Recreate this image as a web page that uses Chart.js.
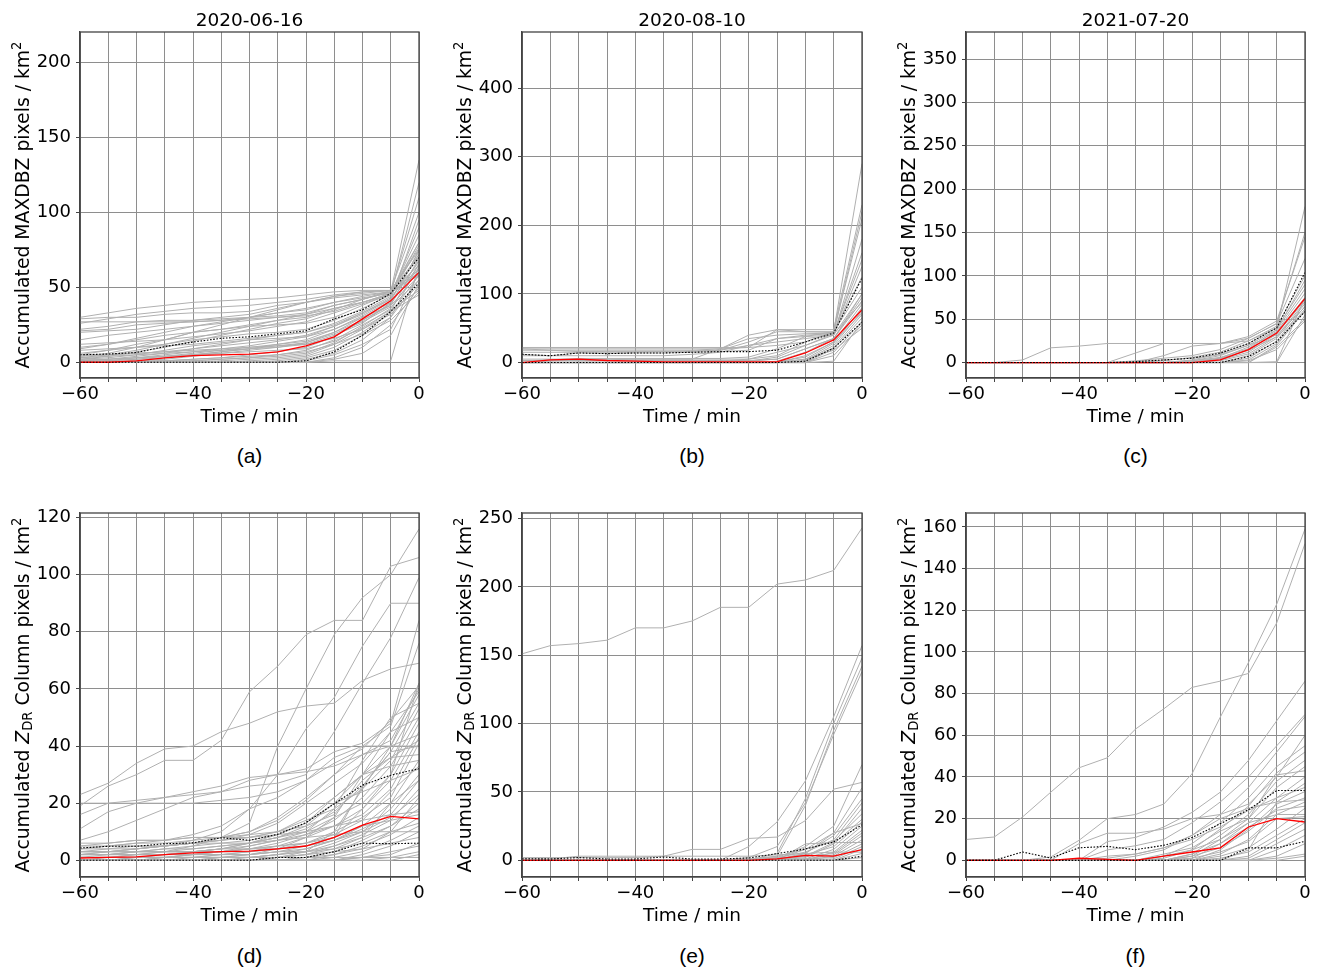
<!DOCTYPE html>
<html>
<head>
<meta charset="utf-8">
<script src="https://cdn.jsdelivr.net/npm/chart.js@4.4.1/dist/chart.umd.min.js"></script>
<style>
  body { margin: 0; background: #fff; }
  #fig { position: relative; width: 1319px; height: 972px; font-family: "DejaVu Sans", sans-serif; color: #000; }
  canvas { position: absolute; }
  .ttl { position: absolute; font-size: 18.5px; line-height: 22px; text-align: center; white-space: nowrap; }
  .ylab { position: absolute; font-size: 18.8px; line-height: 22px; text-align: center; white-space: nowrap; transform: rotate(-90deg); }
  .plab { position: absolute; font-family: "Liberation Sans", Arial, sans-serif; font-size: 21px; line-height: 24px; text-align: center; }
  sup { font-size: 0.7em; vertical-align: 0.6em; line-height: 0; }
  sub { font-size: 0.7em; vertical-align: -0.25em; line-height: 0; }
</style>
</head>
<body>
<div id="fig"></div>
<script>
const timeMin = [-60, -55, -50, -45, -40, -35, -30, -25, -20, -15, -10, -5, 0];

// (a) 2020-06-16, MAXDBZ
const yTicksA = [0, 50, 100, 150, 200];
const medianA = [0, 0, 1, 3, 4.5, 5, 5.5, 7, 11, 17, 29, 41, 60];
const upperA = [5, 5.5, 6.5, 10.5, 13.5, 16, 17, 19, 21, 29, 35, 46, 70];
const lowerA = [0, 0, 0, 0, 0, 0, 0, 0, 1, 7, 18, 34, 53];
const tracksA = [
  [30, 33, 36, 38, 40, 41, 42, 43, 45, 47, 48, 48, 75],
  [29, 30, 30, 32, 33, 33, 34, 38, 40, 44, 46, 48, 70],
  [22, 24, 27, 28, 28, 29, 30, 31, 33, 38, 42, 47, 80],
  [21, 22, 25, 26, 27, 28, 30, 33, 35, 40, 44, 47, 65],
  [27, 27, 27, 27, 27, 28, 29, 30, 31, 34, 40, 46, 60],
  [5, 8, 12, 15, 20, 25, 30, 35, 40, 43, 45, 47, 135],
  [4, 6, 10, 15, 20, 22, 25, 28, 30, 36, 40, 45, 120],
  [3, 5, 8, 12, 16, 20, 24, 28, 32, 38, 42, 47, 110],
  [2, 4, 7, 10, 14, 18, 22, 26, 29, 35, 42, 48, 100],
  [6, 8, 10, 12, 15, 17, 19, 20, 22, 28, 36, 45, 80],
  [1, 2, 4, 6, 9, 12, 15, 18, 20, 26, 34, 44, 78],
  [0, 1, 3, 5, 7, 9, 11, 14, 17, 24, 33, 42, 72],
  [0, 0, 1, 2, 4, 6, 8, 10, 13, 20, 30, 40, 68],
  [0, 0, 0, 1, 2, 3, 5, 7, 10, 17, 28, 39, 65],
  [0, 0, 0, 0, 1, 2, 3, 4, 6, 13, 24, 36, 62],
  [0, 0, 0, 0, 0, 0, 1, 2, 4, 10, 20, 33, 58],
  [0, 0, 0, 0, 0, 0, 0, 0, 2, 6, 15, 30, 55],
  [0, 0, 0, 0, 0, 0, 0, 0, 0, 3, 10, 25, 50],
  [0, 0, 0, 0, 0, 0, 0, 0, 0, 1, 1, 1, 65],
  [2, 3, 5, 8, 11, 13, 15, 16, 17, 22, 30, 38, 75],
  [5, 5, 6, 7, 8, 9, 10, 11, 12, 18, 26, 40, 63],
  [0, 1, 2, 4, 6, 8, 10, 12, 14, 20, 28, 38, 58],
  [10, 12, 15, 18, 20, 22, 24, 25, 26, 30, 38, 46, 85],
  [15, 18, 20, 22, 24, 26, 28, 30, 32, 36, 40, 46, 72],
  [0, 0, 0, 1, 1, 2, 3, 5, 8, 15, 25, 35, 48],
  [1, 1, 2, 3, 5, 7, 9, 11, 13, 19, 27, 37, 55],
  [3, 4, 5, 6, 7, 8, 9, 10, 12, 16, 22, 32, 52],
  [0, 0, 0, 0, 0, 0, 0, 1, 3, 8, 18, 28, 47],
  [12, 13, 14, 15, 17, 19, 21, 24, 27, 33, 39, 45, 90],
  [8, 9, 10, 11, 12, 14, 16, 18, 20, 25, 33, 43, 67],
  [0, 0, 0, 0, 0, 1, 2, 3, 5, 12, 22, 34, 45],
  [0, 0, 0, 0, 0, 0, 0, 0, 1, 5, 12, 22, 60],
  [20, 21, 22, 25, 28, 30, 32, 36, 40, 44, 47, 48, 76],
  [1, 2, 3, 4, 5, 6, 7, 8, 9, 14, 23, 34, 70],
  [4, 5, 6, 7, 9, 11, 13, 15, 18, 24, 32, 42, 95],
  [0, 0, 0, 0, 0, 0, 0, 0, 0, 2, 6, 18, 52],
  [9, 12, 16, 20, 24, 27, 30, 33, 36, 40, 43, 46, 62],
  [26, 29, 32, 34, 36, 37, 38, 40, 42, 45, 47, 48, 58],
  [0, 0, 1, 1, 2, 3, 4, 5, 7, 12, 19, 30, 66],
  [2, 2, 3, 4, 5, 7, 9, 12, 15, 22, 31, 41, 74]
];

// (b) 2020-08-10, MAXDBZ
const yTicksB = [0, 100, 200, 300, 400];
const medianB = [0, 4, 5, 3, 2, 1, 1, 1, 1, 1, 14, 33, 77];
const upperB = [12, 10, 14, 13, 14, 14, 15, 16, 16, 18, 30, 43, 123];
const lowerB = [0, 0, 0, 0, 0, 0, 0, 0, 0, 0, 2, 21, 59];
const tracksB = [
  [22, 22, 22, 22, 22, 22, 22, 22, 22, 25, 30, 45, 290],
  [20, 20, 20, 20, 20, 20, 20, 20, 22, 48, 48, 48, 230],
  [18, 18, 18, 18, 18, 18, 18, 20, 40, 48, 45, 44, 220],
  [15, 15, 15, 15, 15, 16, 16, 18, 30, 45, 45, 45, 210],
  [12, 10, 14, 13, 14, 14, 15, 16, 18, 35, 40, 42, 160],
  [5, 5, 5, 5, 5, 5, 5, 20, 35, 40, 42, 43, 150],
  [2, 4, 6, 6, 6, 6, 6, 6, 8, 20, 38, 45, 125],
  [0, 2, 3, 4, 5, 5, 5, 5, 5, 10, 30, 45, 110],
  [0, 0, 0, 0, 0, 0, 0, 2, 5, 15, 25, 40, 100],
  [0, 0, 0, 0, 0, 0, 0, 0, 2, 5, 20, 35, 95],
  [0, 0, 0, 0, 0, 0, 0, 0, 0, 2, 15, 35, 90],
  [0, 0, 0, 0, 0, 0, 0, 0, 0, 0, 10, 30, 85],
  [0, 0, 0, 0, 0, 0, 0, 0, 0, 0, 5, 28, 80],
  [0, 0, 0, 0, 0, 0, 0, 0, 0, 0, 3, 25, 75],
  [0, 0, 0, 0, 0, 0, 0, 0, 0, 0, 2, 22, 70],
  [0, 0, 0, 0, 0, 0, 0, 0, 0, 0, 0, 20, 65],
  [0, 0, 0, 0, 0, 0, 0, 0, 0, 0, 0, 15, 60],
  [0, 0, 0, 0, 0, 0, 0, 0, 0, 0, 0, 2, 60],
  [0, 0, 0, 0, 0, 0, 0, 0, 0, 0, 0, 10, 55],
  [0, 0, 0, 0, 0, 0, 0, 0, 0, 0, 5, 18, 50],
  [3, 3, 3, 3, 3, 3, 3, 3, 3, 5, 20, 35, 100],
  [10, 10, 10, 10, 10, 10, 12, 15, 25, 35, 38, 40, 140],
  [0, 0, 0, 0, 0, 0, 0, 0, 0, 1, 8, 30, 72],
  [0, 0, 1, 1, 1, 1, 1, 1, 2, 8, 25, 42, 88],
  [20, 18, 16, 16, 16, 16, 17, 18, 25, 30, 35, 40, 180]
];

// (c) 2021-07-20, MAXDBZ
const yTicksC = [0, 50, 100, 150, 200, 250, 300, 350];
const medianC = [0, 0, 0, 0, 0, 0, 0, 0, 0, 3, 15, 34, 74];
const upperC = [0, 0, 0, 0, 0, 0, 1, 3, 5, 11, 22, 40, 104];
const lowerC = [0, 0, 0, 0, 0, 0, 0, 0, 0, 0, 7, 24, 59];
const tracksC = [
  [0, 0, 3, 17, 19, 22, 22, 22, 22, 22, 25, 40, 180],
  [0, 0, 0, 0, 0, 0, 11, 22, 22, 22, 28, 45, 150],
  [0, 0, 0, 0, 0, 0, 0, 8, 19, 22, 30, 48, 145],
  [0, 0, 0, 0, 0, 0, 2, 5, 8, 15, 28, 45, 120],
  [0, 0, 0, 0, 0, 0, 0, 2, 6, 12, 25, 42, 100],
  [0, 0, 0, 0, 0, 0, 0, 0, 3, 10, 22, 40, 90],
  [0, 0, 0, 0, 0, 0, 0, 0, 2, 8, 20, 38, 85],
  [0, 0, 0, 0, 0, 0, 0, 0, 0, 5, 18, 36, 80],
  [0, 0, 0, 0, 0, 0, 0, 0, 0, 4, 15, 35, 75],
  [0, 0, 0, 0, 0, 0, 0, 0, 0, 3, 12, 33, 72],
  [0, 0, 0, 0, 0, 0, 0, 0, 0, 2, 10, 30, 70],
  [0, 0, 0, 0, 0, 0, 0, 0, 0, 0, 8, 28, 68],
  [0, 0, 0, 0, 0, 0, 0, 0, 0, 0, 5, 25, 65],
  [0, 0, 0, 0, 0, 0, 0, 0, 0, 0, 3, 22, 62],
  [0, 0, 0, 0, 0, 0, 0, 0, 0, 0, 0, 20, 60],
  [0, 0, 0, 0, 0, 0, 0, 0, 0, 0, 0, 0, 55],
  [0, 0, 0, 0, 0, 0, 0, 0, 0, 0, 0, 18, 50],
  [0, 0, 0, 0, 0, 0, 0, 0, 1, 5, 14, 30, 58],
  [0, 0, 0, 0, 0, 0, 0, 0, 0, 0, 0, 1, 75],
  [0, 0, 0, 0, 0, 0, 0, 0, 2, 6, 16, 38, 95],
  [0, 0, 0, 0, 0, 0, 0, 0, 0, 0, 2, 15, 48],
  [0, 0, 0, 0, 0, 0, 1, 3, 5, 9, 20, 32, 64]
];

// (d) 2020-06-16, ZDR column
const yTicksD = [0, 20, 40, 60, 80, 100, 120];
const medianD = [0.8, 1, 1.2, 2, 2.6, 3, 3.2, 4, 5, 8, 12.3, 15.4, 14.5];
const upperD = [4.3, 4.9, 4.9, 5.8, 6.1, 7.9, 7, 9.1, 13.2, 19.8, 26.3, 29.8, 32.1];
const lowerD = [0, 0, 0, 0, 0, 0, 0, 1, 1, 3, 6, 5.8, 6];
const tracksD = [
  [19, 26, 30, 35, 35, 42, 59, 68, 79, 84, 84, 103, 106],
  [23, 27, 34, 39, 40, 45, 48, 52, 54, 55, 63, 67, 69],
  [1, 1, 2, 3, 5, 8, 13, 40, 60, 79, 92, 100, 116],
  [2, 3, 4, 5, 7, 10, 18, 30, 46, 57, 75, 90, 90],
  [11, 17, 20, 22, 23, 24, 26, 27, 30, 45, 62, 78, 99],
  [16, 20, 21, 22, 24, 26, 29, 30, 32, 38, 41, 48, 84],
  [20, 20, 20, 20, 20, 21, 22, 24, 28, 36, 40, 47, 76],
  [7, 10, 14, 18, 22, 24, 28, 30, 31, 33, 37, 40, 62],
  [4, 5, 6, 7, 9, 12, 18, 22, 28, 34, 39, 49, 61],
  [5, 5, 6, 6, 7, 8, 10, 15, 22, 30, 37, 42, 60],
  [3, 3, 4, 5, 6, 7, 9, 13, 20, 27, 34, 45, 59],
  [2, 2, 3, 4, 5, 6, 7, 9, 13, 20, 30, 40, 58],
  [1, 1, 2, 2, 3, 4, 6, 8, 11, 17, 26, 38, 55],
  [4, 4, 5, 5, 6, 7, 8, 10, 14, 18, 25, 35, 53],
  [0, 0, 1, 1, 2, 3, 4, 6, 9, 14, 22, 33, 50],
  [3, 3, 3, 4, 4, 5, 6, 8, 10, 15, 20, 30, 48],
  [2, 2, 2, 3, 3, 4, 5, 7, 9, 12, 18, 28, 45],
  [0, 0, 0, 1, 1, 2, 3, 5, 8, 12, 16, 25, 43],
  [1, 1, 1, 1, 2, 2, 3, 4, 6, 10, 15, 22, 41],
  [0, 0, 0, 0, 1, 1, 2, 3, 5, 8, 26, 38, 40],
  [5, 6, 7, 7, 8, 8, 9, 10, 12, 16, 28, 36, 37],
  [0, 0, 0, 0, 0, 1, 1, 2, 4, 7, 12, 20, 35],
  [2, 2, 2, 2, 3, 3, 4, 5, 6, 9, 14, 24, 33],
  [0, 0, 0, 0, 0, 0, 1, 2, 3, 6, 10, 18, 30],
  [1, 1, 1, 1, 1, 2, 2, 3, 4, 7, 11, 16, 28],
  [0, 0, 0, 0, 0, 0, 0, 1, 2, 5, 9, 14, 25],
  [3, 3, 3, 3, 3, 3, 4, 4, 5, 7, 10, 15, 23],
  [0, 0, 0, 0, 0, 0, 0, 0, 1, 3, 7, 12, 20],
  [1, 1, 1, 1, 1, 1, 1, 2, 3, 5, 8, 12, 18],
  [0, 0, 0, 0, 0, 0, 0, 0, 0, 2, 5, 9, 15],
  [2, 2, 2, 2, 2, 2, 2, 3, 3, 4, 6, 10, 13],
  [0, 0, 0, 0, 0, 0, 0, 0, 0, 1, 3, 7, 12],
  [0, 0, 0, 0, 0, 0, 0, 0, 0, 0, 2, 5, 10],
  [1, 1, 1, 1, 1, 1, 1, 1, 2, 3, 4, 6, 8],
  [0, 0, 0, 0, 0, 0, 0, 0, 0, 0, 1, 3, 5],
  [0, 0, 0, 0, 0, 0, 0, 0, 0, 0, 0, 1, 3],
  [6, 6, 7, 7, 8, 8, 8, 9, 10, 12, 14, 16, 17],
  [4, 5, 5, 5, 6, 6, 6, 7, 8, 9, 10, 10, 10],
  [0, 0, 0, 0, 0, 1, 2, 4, 8, 15, 30, 45, 50],
  [0, 0, 0, 0, 0, 0, 0, 1, 3, 10, 25, 40, 44],
  [0, 0, 0, 1, 2, 3, 5, 7, 10, 18, 35, 50, 55],
  [2, 3, 4, 5, 6, 8, 10, 14, 21, 30, 40, 40, 40],
  [0, 0, 1, 2, 3, 4, 6, 9, 13, 22, 30, 36, 42],
  [1, 2, 3, 3, 4, 5, 6, 8, 12, 20, 24, 28, 32],
  [0, 0, 0, 0, 0, 0, 0, 1, 2, 4, 8, 20, 28],
  [3, 4, 4, 5, 6, 7, 8, 10, 15, 22, 30, 33, 35],
  [0, 0, 0, 0, 0, 0, 0, 0, 1, 2, 4, 10, 22],
  [0, 1, 1, 2, 2, 3, 3, 4, 5, 8, 18, 30, 62],
  [0, 0, 0, 0, 0, 0, 0, 0, 0, 0, 0, 0, 2],
  [1, 1, 1, 1, 1, 1, 1, 1, 1, 1, 1, 1, 1],
  [0, 0, 0, 0, 0, 0, 0, 0, 0, 0, 1, 2, 6],
  [2, 2, 3, 3, 3, 4, 4, 5, 6, 8, 12, 14, 16]
];

// (e) 2020-08-10, ZDR column
const yTicksE = [0, 50, 100, 150, 200, 250];
const medianE = [0, 0, 0, 0, 0, 0, 0, 0, 0, 1, 3.6, 3, 7.8];
const upperE = [1.2, 1, 2, 1, 1, 2.4, 1, 1, 1.7, 4.9, 8.3, 13.4, 26];
const lowerE = [0, 0, 0, 0, 0, 0, 0, 0, 0, 0, 0, 0, 3];
const tracksE = [
  [151, 157, 158.5, 161, 170, 170, 175, 185, 185, 202, 205, 212, 243],
  [0, 0, 0, 0, 0, 0, 0, 0, 10, 28, 58, 105, 157],
  [0, 0, 0, 0, 0, 0, 0, 0, 0, 5, 45, 100, 148],
  [0, 0, 0, 0, 0, 0, 0, 0, 0, 3, 40, 95, 142],
  [0, 0, 0, 0, 0, 0, 0, 0, 2, 10, 42, 92, 138],
  [1, 1, 3, 3, 3, 3, 8, 8, 16, 17, 29, 52, 57],
  [0, 0, 0, 0, 0, 0, 0, 0, 0, 2, 10, 25, 70],
  [0, 0, 0, 0, 0, 0, 0, 0, 0, 1, 8, 20, 53],
  [0, 0, 0, 0, 0, 0, 0, 0, 0, 0, 5, 18, 45],
  [0, 0, 0, 0, 0, 0, 0, 0, 0, 2, 6, 15, 42],
  [0, 0, 0, 0, 0, 0, 0, 0, 0, 0, 3, 13, 38],
  [0, 0, 0, 0, 0, 0, 0, 0, 1, 3, 8, 14, 34],
  [0, 0, 0, 0, 0, 0, 0, 0, 0, 0, 2, 12, 30],
  [0, 0, 0, 0, 0, 0, 0, 0, 0, 1, 4, 10, 28],
  [0, 0, 0, 0, 0, 0, 0, 0, 0, 0, 1, 8, 25],
  [0, 0, 0, 0, 0, 0, 0, 0, 0, 0, 0, 6, 22],
  [0, 0, 0, 0, 0, 0, 0, 0, 0, 1, 3, 5, 20],
  [0, 0, 0, 0, 0, 0, 0, 0, 0, 0, 1, 4, 18],
  [0, 0, 0, 0, 0, 0, 0, 0, 0, 0, 0, 3, 15],
  [0, 0, 0, 0, 0, 0, 0, 0, 0, 0, 1, 2, 12],
  [0, 0, 0, 0, 0, 0, 0, 0, 0, 0, 0, 1, 10],
  [0, 0, 0, 0, 0, 0, 0, 0, 0, 0, 0, 0, 8],
  [0, 0, 0, 0, 0, 0, 0, 0, 0, 0, 0, 0, 5],
  [2, 2, 2, 2, 2, 3, 3, 3, 3, 4, 5, 6, 6],
  [0, 0, 0, 0, 0, 0, 0, 0, 0, 0, 0, 0, 2],
  [0, 0, 0, 0, 0, 0, 0, 0, 0, 0, 12, 13, 13],
  [0, 0, 0, 0, 0, 0, 0, 0, 0, 1, 5, 20, 27]
];

// (f) 2021-07-20, ZDR column
const yTicksF = [0, 20, 40, 60, 80, 100, 120, 140, 160];
const medianF = [0, 0, 0, 0, 1, 0.5, 0, 2, 4, 6, 16, 20, 18.4];
const upperF = [0, 0, 4, 1.1, 6, 6.7, 5.1, 7.2, 10.9, 17.6, 24.3, 33.5, 33.5];
const lowerF = [0, 0, 0, 0, 0, 0, 0, 0, 0, 0, 6, 6, 9.1];
const tracksF = [
  [10, 11.2, 20.8, 32.7, 44.4, 49.2, 63, 72.7, 83, 86, 89.7, 114, 152],
  [0, 0, 0, 1.6, 9.6, 20, 22, 27, 41.5, 68.7, 95, 123, 159],
  [0, 0, 0, 0, 0, 9, 11, 16, 23, 32.7, 48, 67, 86],
  [0, 0, 0, 0, 0, 5, 7, 10, 18, 28, 40, 55, 70],
  [0, 0, 0, 0, 0, 0, 2, 5, 12, 22, 35, 52, 69],
  [0, 0, 0, 0, 8, 13, 13, 15, 20, 22, 27, 40, 60],
  [0, 0, 0, 0, 0, 0, 0, 2, 8, 18, 30, 45, 55],
  [0, 0, 0, 0, 0, 0, 0, 1, 5, 15, 26, 42, 52],
  [0, 0, 0, 0, 0, 0, 0, 0, 3, 12, 22, 38, 48],
  [0, 0, 0, 0, 0, 0, 0, 0, 2, 10, 20, 41, 43],
  [0, 0, 0, 0, 0, 0, 0, 3, 6, 14, 20, 35, 45],
  [0, 0, 0, 0, 0, 0, 0, 0, 1, 8, 18, 30, 40],
  [0, 0, 0, 0, 0, 1, 3, 6, 10, 16, 24, 30, 35],
  [0, 0, 0, 0, 0, 0, 0, 0, 0, 5, 15, 27, 33],
  [0, 0, 0, 0, 0, 0, 0, 0, 2, 6, 14, 25, 30],
  [0, 0, 0, 0, 0, 0, 0, 0, 0, 3, 10, 22, 28],
  [0, 0, 0, 0, 0, 0, 0, 2, 5, 10, 18, 22, 22],
  [0, 0, 0, 0, 0, 0, 0, 0, 1, 4, 9, 20, 21],
  [0, 0, 0, 0, 0, 0, 0, 0, 0, 2, 6, 15, 25],
  [0, 0, 0, 0, 0, 0, 0, 0, 0, 1, 4, 12, 20],
  [0, 0, 0, 0, 0, 0, 0, 0, 0, 0, 2, 10, 18],
  [0, 0, 0, 0, 0, 0, 0, 0, 0, 0, 1, 8, 15],
  [0, 0, 0, 0, 0, 0, 0, 0, 0, 0, 0, 5, 12],
  [0, 0, 0, 0, 0, 0, 0, 0, 0, 0, 0, 2, 8],
  [0, 0, 0, 0, 0, 0, 0, 0, 0, 0, 0, 1, 3],
  [0, 0, 0, 0, 0, 0, 0, 0, 0, 0, 0, 0, 2],
  [0, 0, 0, 0, 0, 2, 3, 6, 12, 20, 25, 28, 29],
  [0, 0, 0, 0, 0, 0, 0, 0, 3, 8, 16, 24, 26],
  [0, 0, 0, 0, 0, 0, 0, 0, 0, 0, 5, 28, 37]
];

const xTicks = timeMin;
const yTitleMaxdbz = "Accumulated MAXDBZ pixels / km<sup>2</sup>";
const yTitleZdr = "Accumulated <i>Z</i><sub>DR</sub> Column pixels / km<sup>2</sup>";

const panels = [
  { label: "(a)", title: "2020-06-16", yTitle: yTitleMaxdbz, box: [80, 32, 339, 346], y: [-10.5, 220.5], yTicks: yTicksA, median: medianA, upper: upperA, lower: lowerA, tracks: tracksA },
  { label: "(b)", title: "2020-08-10", yTitle: yTitleMaxdbz, box: [522, 32, 340, 346], y: [-22.5, 482], yTicks: yTicksB, median: medianB, upper: upperB, lower: lowerB, tracks: tracksB },
  { label: "(c)", title: "2021-07-20", yTitle: yTitleMaxdbz, box: [966, 32, 339, 346], y: [-17.8, 381.2], yTicks: yTicksC, median: medianC, upper: upperC, lower: lowerC, tracks: tracksC },
  { label: "(d)", title: "", yTitle: yTitleZdr, box: [80, 513, 339, 364], y: [-5.85, 121.6], yTicks: yTicksD, median: medianD, upper: upperD, lower: lowerD, tracks: tracksD },
  { label: "(e)", title: "", yTitle: yTitleZdr, box: [522, 513, 340, 364], y: [-12.2, 254], yTicks: yTicksE, median: medianE, upper: upperE, lower: lowerE, tracks: tracksE },
  { label: "(f)", title: "", yTitle: yTitleZdr, box: [966, 513, 339, 364], y: [-8, 166.7], yTicks: yTicksF, median: medianF, upper: upperF, lower: lowerF, tracks: tracksF }
];

const FONT = "'DejaVu Sans', sans-serif";
const fmt = v => (v < 0 ? "\u2212" + Math.abs(v) : String(v));

// matplotlib-like frame around the plotting area
const framePlugin = {
  id: "frame",
  afterDraw(chart) {
    const { ctx, chartArea: a } = chart;
    ctx.save();
    ctx.strokeStyle = "#444";
    ctx.lineWidth = 1.3;
    ctx.strokeRect(a.left, a.top, a.right - a.left, a.bottom - a.top);
    ctx.restore();
  }
};

const fig = document.getElementById("fig");

function addDiv(cls, html, css) {
  const d = document.createElement("div");
  d.className = cls;
  d.innerHTML = html;
  Object.assign(d.style, css);
  fig.appendChild(d);
}

panels.forEach(p => {
  const [L, T, W, H] = p.box;
  const padL = 70, padT = 20, padR = 12, padB = 56;
  const cnv = document.createElement("canvas");
  cnv.width = W + padL + padR;
  cnv.height = H + padT + padB;
  cnv.style.left = (L - padL) + "px";
  cnv.style.top = (T - padT) + "px";
  cnv.style.width = cnv.width + "px";
  cnv.style.height = cnv.height + "px";
  fig.appendChild(cnv);

  const datasets = [
    { data: p.upper, borderColor: "#000", borderWidth: 1.1, borderDash: [1.6, 1.6], order: 0 },
    { data: p.lower, borderColor: "#000", borderWidth: 1.1, borderDash: [1.6, 1.6], order: 0 },
    { data: p.median, borderColor: "#ff0000", borderWidth: 1.3, order: 1 }
  ];
  p.tracks.forEach(t => datasets.push({ data: t, borderColor: "#b0b0b0", borderWidth: 1, order: 2 }));

  const gridOpts = { color: "#8e8e8e", lineWidth: 1, tickLength: 4, tickColor: "#444", tickWidth: 1 };

  new Chart(cnv, {
    type: "line",
    data: { labels: timeMin, datasets },
    options: {
      responsive: false,
      animation: false,
      events: [],
      layout: { padding: { left: 0, top: padT, right: padR, bottom: 6 } },
      elements: { point: { radius: 0 }, line: { tension: 0 } },
      plugins: { legend: { display: false }, tooltip: { enabled: false } },
      scales: {
        x: {
          type: "linear",
          min: -60,
          max: 0,
          afterBuildTicks: s => { s.ticks = xTicks.map(v => ({ value: v })); },
          ticks: {
            autoSkip: false, maxRotation: 0, padding: 2, color: "#000",
            font: { family: FONT, size: 18 },
            callback: v => (v % 20 === 0 ? fmt(v) : "")
          },
          grid: gridOpts,
          border: { color: "#444", width: 1.3 },
          title: { display: true, text: "Time / min", color: "#000", font: { family: FONT, size: 18.5 }, padding: 0 },
          afterFit: s => { s.height = padB - 6; }
        },
        y: {
          min: p.y[0],
          max: p.y[1],
          afterBuildTicks: s => { s.ticks = p.yTicks.map(v => ({ value: v })); },
          ticks: {
            autoSkip: false, padding: 5, color: "#000",
            font: { family: FONT, size: 18 },
            callback: v => fmt(v)
          },
          grid: gridOpts,
          border: { color: "#444", width: 1.3 },
          afterFit: s => { s.width = padL; }
        }
      }
    },
    plugins: [framePlugin]
  });

  const cx = L + W / 2;
  if (p.title) {
    addDiv("ttl", p.title, { left: (cx - 100) + "px", top: (T - 23) + "px", width: "200px" });
  }
  addDiv("ylab", p.yTitle, { left: (L - 57.5 - H / 2) + "px", top: (T + H / 2 - 11) + "px", width: H + "px" });
  const labelY = T < 100 ? 456 : 956;
  addDiv("plab", p.label, { left: (cx - 30) + "px", top: (labelY - 12) + "px", width: "60px" });
});
</script>
</body>
</html>
